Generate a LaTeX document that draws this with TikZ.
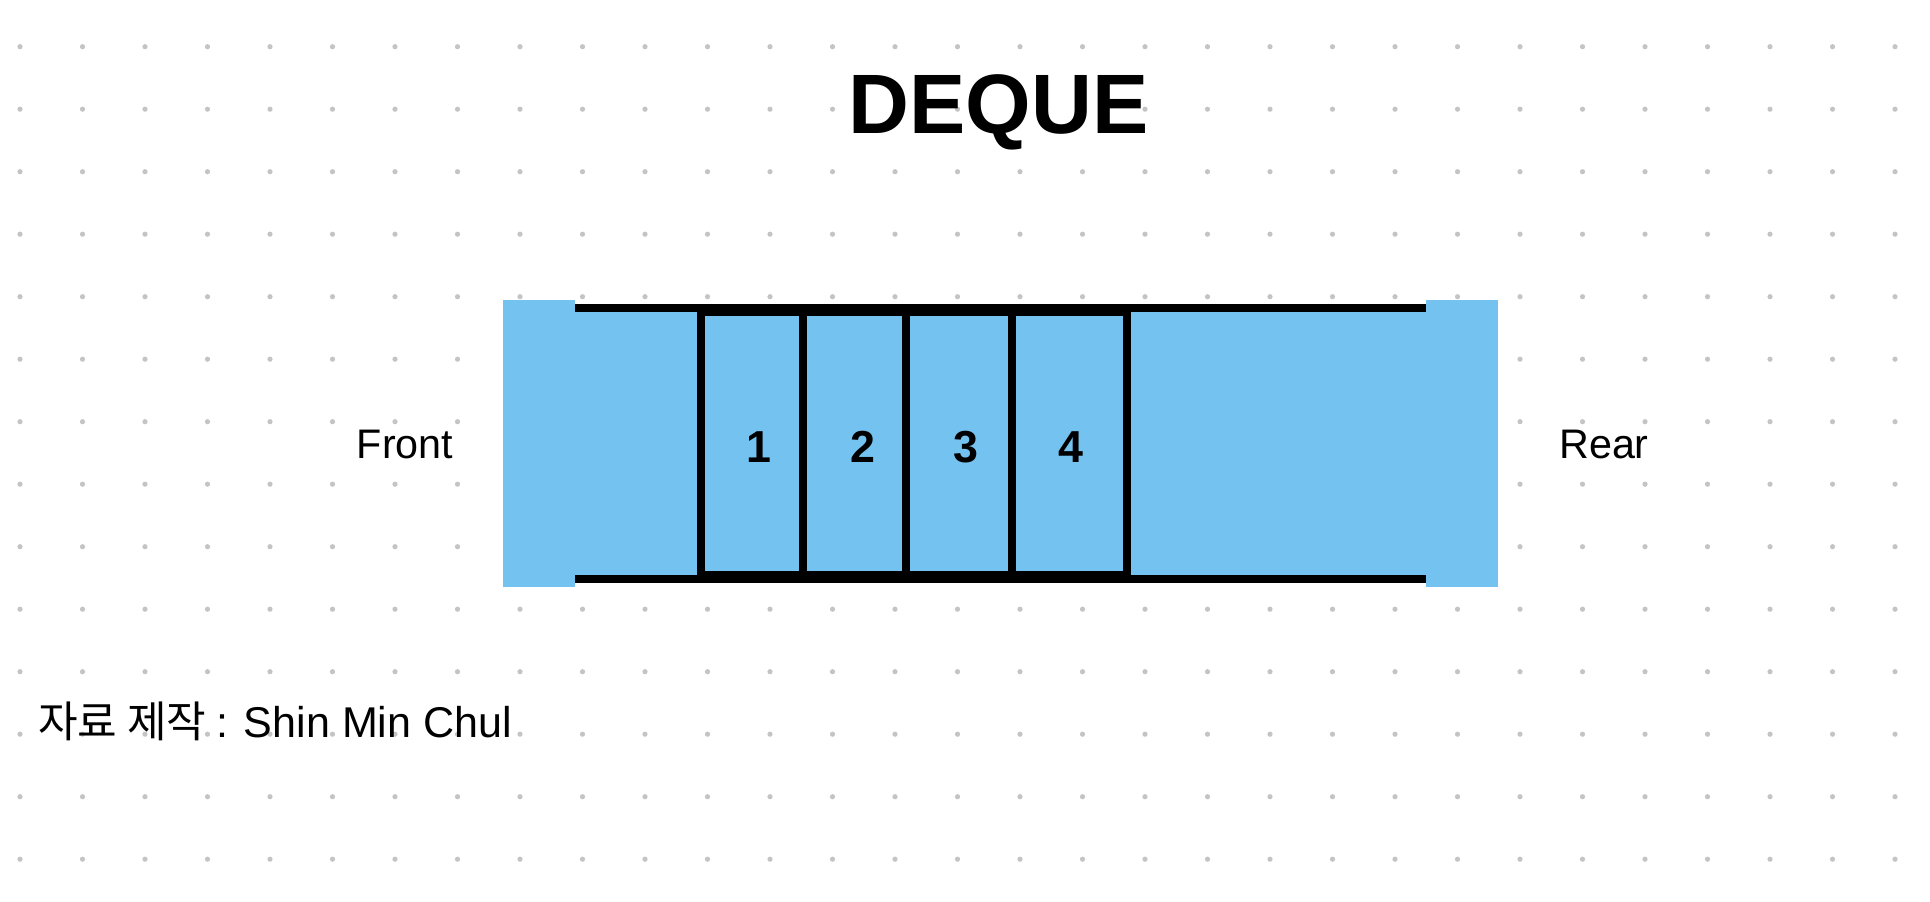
\documentclass[tikz,border=0pt]{standalone}
\usepackage{fontspec}
\setmainfont{Liberation Sans}
\newfontfamily\krfont{Noto Sans CJK KR}
\definecolor{dqblue}{RGB}{116,194,239}
\definecolor{dotgray}{RGB}{196,196,196}
\begin{document}
\begin{tikzpicture}[x=0.02cm, y=-0.02cm, every node/.style={inner sep=0pt, font=\fontsize{23.5}{28}\selectfont}]
  \useasboundingbox[fill=white] (0,0) rectangle (1930,902);
  \foreach \i in {0,...,30} \foreach \j in {0,...,13} \fill[dotgray] (20+62.5*\i,46.7+62.5*\j) circle[radius=2.6];
  \node[anchor=base, font=\fontsize{48}{56}\selectfont\bfseries] (title) at (998.5,133.3) {DEQUE};
  \fill[dqblue] (503,300) rectangle (575,587);
  \fill[dqblue] (575,312) rectangle (1426,575);
  \fill[dqblue] (1426,300) rectangle (1498,587);
  \coordinate (tl) at (575,308); \coordinate (tr) at (1426,308);
  \coordinate (bl) at (575,579); \coordinate (br) at (1426,579);
  \draw[line width=4.55pt] (tl) -- (tr);
  \draw[line width=4.55pt] (bl) -- (br);
  \foreach \xa/\xb/\lbl/\xl in {701/803/1/759, 803/906/2/863, 906/1012/3/966, 1012/1126.5/4/1070.5} {
    \draw[line width=4.55pt] (\xa,312) rectangle (\xb,575);
    \node[anchor=base, font=\fontsize{25.5}{30}\selectfont\bfseries] (n\lbl) at (\xl,462) {\lbl};
  }
  \node[anchor=base] (front) at (405,458) {Front};
  \node[anchor=base] (rear) at (1604,458) {Rear};
  \node[anchor=base west, font=\fontsize{24.5}{29}\selectfont] (credit) at (38,737) {{\krfont 자료 제작 }: Shin Min Chul};
\end{tikzpicture}
\end{document}
